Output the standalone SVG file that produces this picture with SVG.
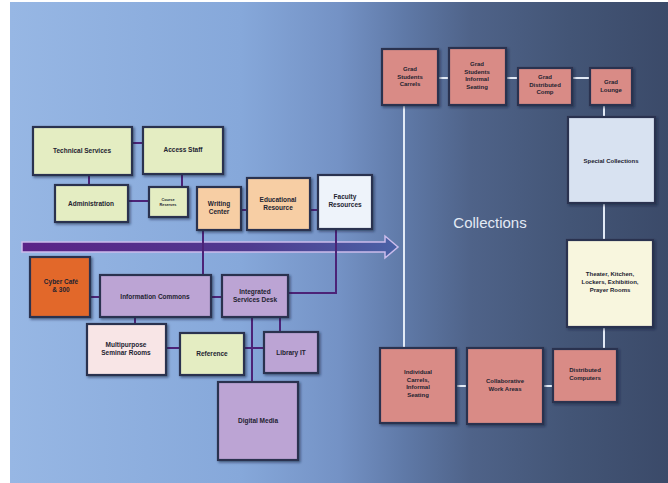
<svg xmlns="http://www.w3.org/2000/svg" width="668" height="483" viewBox="0 0 668 483">
<defs>
  <linearGradient id="bg" x1="0" y1="0" x2="1" y2="0">
    <stop offset="0" stop-color="#97b7e4"/>
    <stop offset="0.35" stop-color="#86a8da"/>
    <stop offset="0.5" stop-color="#7492c5"/>
    <stop offset="0.6" stop-color="#5f79a7"/>
    <stop offset="0.7" stop-color="#4f6389"/>
    <stop offset="0.85" stop-color="#435576"/>
    <stop offset="1" stop-color="#3b4a69"/>
  </linearGradient>
  <linearGradient id="arrowFill" x1="0" y1="0" x2="1" y2="0">
    <stop offset="0" stop-color="#5b2287"/>
    <stop offset="0.6" stop-color="#4f3a8f"/>
    <stop offset="1" stop-color="#4a62a6"/>
  </linearGradient>
  <filter id="sh" x="-10%" y="-10%" width="130%" height="130%">
    <feDropShadow dx="1.5" dy="1.5" stdDeviation="1" flood-color="#16203a" flood-opacity="0.55"/>
  </filter>
  <style>
    .box { stroke: #293350; stroke-width: 2.2; filter: url(#sh); }
    .green { fill: #e4edc2; }
    .peach { fill: #f7cea4; }
    .white { fill: #eef3fa; }
    .orange { fill: #e2682c; }
    .purple { fill: #bca4d4; }
    .pink { fill: #f8e5e6; }
    .salmon { fill: #d98b86; }
    .blueg { fill: #d8e2f1; }
    .cream { fill: #f8f6de; }
    .lbl { font-family: "Liberation Sans", Arial, sans-serif; font-weight: bold; font-size: 6.5px; fill: #232330; text-anchor: middle; }
    .sm { font-size: 6px; }
    .tiny { font-size: 3.8px; }
    .cl { stroke: #4c2377; stroke-width: 2; fill: none; }
    .cr { stroke: #e2eaf6; stroke-width: 2; fill: none; }
    .title { font-family: "Liberation Sans", Arial, sans-serif; font-size: 15px; fill: #e3eaf5; text-anchor: middle; }
  </style>
</defs>

<rect x="10" y="2" width="658" height="481" fill="url(#bg)"/>

<g id="flow-arrow">
  <path d="M22,242 H385 V236 L398,247 L385,258 V252 H22 Z" fill="url(#arrowFill)" stroke="#cbbcec" stroke-width="1.5"/>
</g>

<g id="connectors">
  <line class="cl" x1="132" y1="143" x2="143" y2="143"/>
  <line class="cl" x1="89" y1="175" x2="89" y2="185"/>
  <line class="cl" x1="182" y1="174" x2="182" y2="187"/>
  <line class="cl" x1="128" y1="201" x2="149" y2="201"/>
  <line class="cl" x1="241" y1="210" x2="247" y2="210"/>
  <line class="cl" x1="310" y1="210" x2="318" y2="210"/>
  <line class="cl" x1="203" y1="230" x2="203" y2="275"/>
  <polyline class="cl" points="336,229 336,293 288,293"/>
  <line class="cl" x1="90" y1="297" x2="100" y2="297"/>
  <line class="cl" x1="211" y1="297" x2="222" y2="297"/>
  <line class="cl" x1="135" y1="317" x2="135" y2="324"/>
  <line class="cl" x1="166" y1="348" x2="180" y2="348"/>
  <line class="cl" x1="252" y1="317" x2="252" y2="382"/>
  <line class="cl" x1="244" y1="348" x2="264" y2="348"/>
  <line class="cl" x1="280" y1="317" x2="280" y2="332"/>
  <line class="cr" x1="438" y1="78" x2="449" y2="78"/>
  <line class="cr" x1="506" y1="78" x2="518" y2="78"/>
  <line class="cr" x1="572" y1="78" x2="590" y2="78"/>
  <line class="cr" x1="404" y1="105" x2="404" y2="348"/>
  <line class="cr" x1="604" y1="105" x2="604" y2="117"/>
  <line class="cr" x1="604" y1="203" x2="604" y2="240"/>
  <line class="cr" x1="604" y1="327" x2="604" y2="349"/>
  <line class="cr" x1="456" y1="386" x2="467" y2="386"/>
  <line class="cr" x1="543" y1="386" x2="553" y2="386"/>
</g>

<g id="technical-services">
  <rect class="box green" x="33" y="127" width="99" height="48"/>
  <text class="lbl" x="82" y="153">Technical Services</text>
</g>
<g id="access-staff">
  <rect class="box green" x="143" y="127" width="80" height="47"/>
  <text class="lbl" x="183" y="152">Access Staff</text>
</g>
<g id="administration">
  <rect class="box green" x="55" y="185" width="73" height="37"/>
  <text class="lbl" x="91" y="206">Administration</text>
</g>
<g id="course-reserves">
  <rect class="box green" x="149" y="187" width="39" height="30"/>
  <text class="lbl tiny" x="168" y="201">Course</text>
  <text class="lbl tiny" x="168" y="206">Reserves</text>
</g>
<g id="writing-center">
  <rect class="box peach" x="197" y="187" width="44" height="43"/>
  <text class="lbl" x="219" y="206">Writing</text>
  <text class="lbl" x="219" y="214">Center</text>
</g>
<g id="educational-resource">
  <rect class="box peach" x="247" y="178" width="63" height="52"/>
  <text class="lbl" x="278" y="202">Educational</text>
  <text class="lbl" x="278" y="210">Resource</text>
</g>
<g id="faculty-resources">
  <rect class="box white" x="318" y="175" width="54" height="54"/>
  <text class="lbl" x="345" y="199">Faculty</text>
  <text class="lbl" x="345" y="207">Resources</text>
</g>

<g id="cyber-cafe">
  <rect class="box orange" x="30" y="257" width="60" height="60"/>
  <text class="lbl" x="61" y="284">Cyber Café</text>
  <text class="lbl" x="61" y="292">&amp; 300</text>
</g>
<g id="information-commons">
  <rect class="box purple" x="100" y="275" width="111" height="42"/>
  <text class="lbl" x="155" y="299">Information Commons</text>
</g>
<g id="integrated-services-desk">
  <rect class="box purple" x="222" y="275" width="66" height="42"/>
  <text class="lbl" x="255" y="294">Integrated</text>
  <text class="lbl" x="255" y="302">Services Desk</text>
</g>
<g id="multipurpose-seminar-rooms">
  <rect class="box pink" x="87" y="324" width="79" height="51"/>
  <text class="lbl" x="126" y="347">Multipurpose</text>
  <text class="lbl" x="126" y="355">Seminar Rooms</text>
</g>
<g id="reference">
  <rect class="box green" x="180" y="333" width="64" height="42"/>
  <text class="lbl" x="212" y="356">Reference</text>
</g>
<g id="library-it">
  <rect class="box purple" x="264" y="332" width="54" height="41"/>
  <text class="lbl" x="291" y="355">Library IT</text>
</g>
<g id="digital-media">
  <rect class="box purple" x="218" y="382" width="80" height="78"/>
  <text class="lbl" x="258" y="423">Digital Media</text>
</g>

<g id="collections-label">
  <text class="title" x="490" y="228">Collections</text>
</g>

<g id="grad-students-carrels">
  <rect class="box salmon" x="382" y="49" width="56" height="56"/>
  <text class="lbl sm" x="410" y="71">Grad</text>
  <text class="lbl sm" x="410" y="78.5">Students</text>
  <text class="lbl sm" x="410" y="86">Carrels</text>
</g>
<g id="grad-students-informal-seating">
  <rect class="box salmon" x="449" y="48" width="57" height="57"/>
  <text class="lbl sm" x="477" y="66">Grad</text>
  <text class="lbl sm" x="477" y="73.5">Students</text>
  <text class="lbl sm" x="477" y="81">Informal</text>
  <text class="lbl sm" x="477" y="88.5">Seating</text>
</g>
<g id="grad-distributed-comp">
  <rect class="box salmon" x="518" y="68" width="54" height="37"/>
  <text class="lbl sm" x="545" y="79">Grad</text>
  <text class="lbl sm" x="545" y="86.5">Distributed</text>
  <text class="lbl sm" x="545" y="94">Comp</text>
</g>
<g id="grad-lounge">
  <rect class="box salmon" x="590" y="68" width="42" height="37"/>
  <text class="lbl sm" x="611" y="84">Grad</text>
  <text class="lbl sm" x="611" y="91.5">Lounge</text>
</g>
<g id="special-collections">
  <rect class="box blueg" x="568" y="117" width="87" height="86"/>
  <text class="lbl sm" x="611" y="163">Special Collections</text>
</g>
<g id="theater-kitchen">
  <rect class="box cream" x="567" y="240" width="86" height="87"/>
  <text class="lbl sm" x="610" y="276">Theater, Kitchen,</text>
  <text class="lbl sm" x="610" y="284">Lockers, Exhibition,</text>
  <text class="lbl sm" x="610" y="292">Prayer Rooms</text>
</g>
<g id="individual-carrels">
  <rect class="box salmon" x="380" y="348" width="76" height="75"/>
  <text class="lbl sm" x="418" y="374">Individual</text>
  <text class="lbl sm" x="418" y="381.5">Carrels,</text>
  <text class="lbl sm" x="418" y="389">Informal</text>
  <text class="lbl sm" x="418" y="396.5">Seating</text>
</g>
<g id="collaborative-work-areas">
  <rect class="box salmon" x="467" y="348" width="76" height="76"/>
  <text class="lbl sm" x="505" y="383">Collaborative</text>
  <text class="lbl sm" x="505" y="390.5">Work Areas</text>
</g>
<g id="distributed-computers">
  <rect class="box salmon" x="553" y="349" width="64" height="53"/>
  <text class="lbl sm" x="585" y="372">Distributed</text>
  <text class="lbl sm" x="585" y="379.5">Computers</text>
</g>
</svg>
